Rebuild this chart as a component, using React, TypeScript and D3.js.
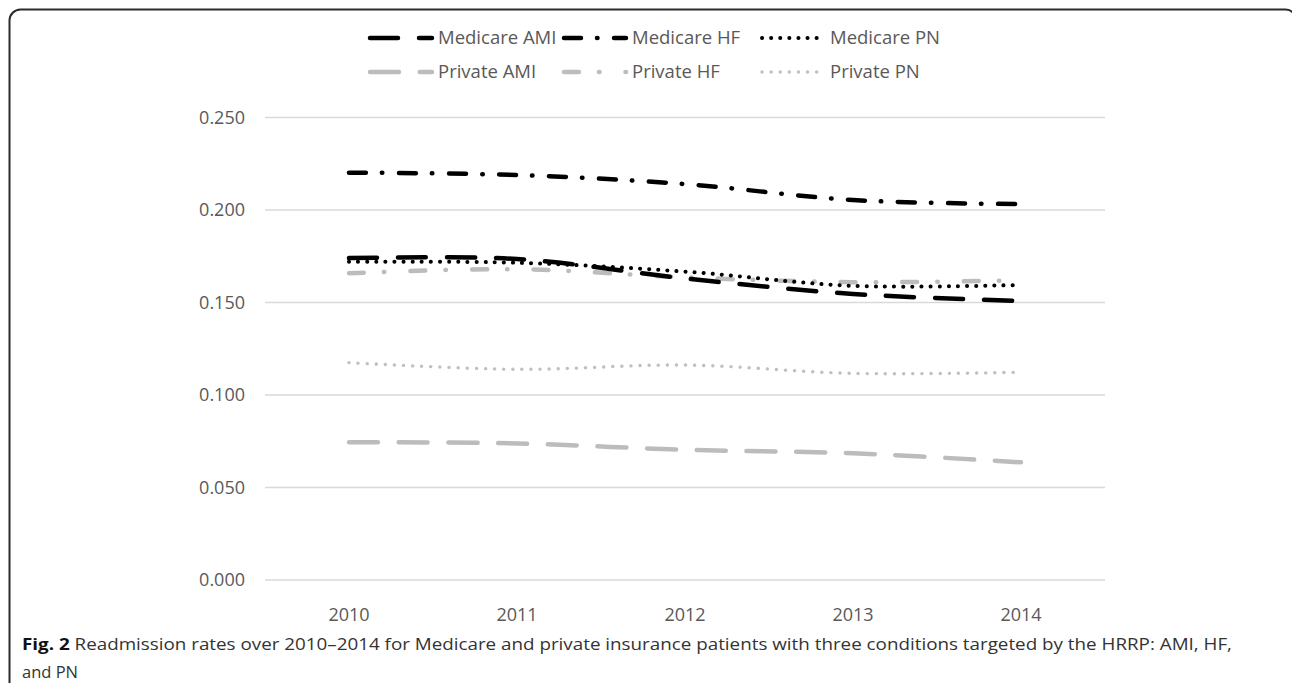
import * as d3 from 'd3';

const years = ['2010', '2011', '2012', '2013', '2014'];
const yTicks = [0, 0.05, 0.1, 0.15, 0.2, 0.25];

const medicareAMI = [0.174, 0.1735, 0.163, 0.1546, 0.1508];
const medicareHF = [0.2202, 0.2189, 0.214, 0.2054, 0.2032];
const medicarePN = [0.172, 0.1715, 0.1667, 0.159, 0.1595];
const privateAMI = [0.0745, 0.0738, 0.0704, 0.0685, 0.0636];
const privateHF = [0.1658, 0.168, 0.1636, 0.161, 0.162];
const privatePN = [0.1175, 0.1139, 0.1162, 0.1117, 0.1123];

const seriesNames = ['Medicare AMI', 'Medicare HF', 'Medicare PN', 'Private AMI', 'Private HF', 'Private PN'];

const W = 1292;
const H = 683;
const FONT = '"Open Sans", sans-serif';

interface LineStyle {
  color: string;
  width: number;
  dash: string;
}

const styles: LineStyle[] = [
  { color: '#000', width: 4.5, dash: '28 21' },
  { color: '#000', width: 4.5, dash: '17 16 0.5 16.5' },
  { color: '#000', width: 4, dash: '0.1 9' },
  { color: '#bcbcbc', width: 4.5, dash: '29 20.7' },
  { color: '#bcbcbc', width: 4.5, dash: '15 20 0.5 26' },
  { color: '#c0c0c0', width: 3.4, dash: '0.1 9' },
];

const allSeries = [medicareAMI, medicareHF, medicarePN, privateAMI, privateHF, privatePN];

export default function App() {
  const x = d3.scaleBand<string>().domain(years).range([265, 1105]);
  const y = d3.scaleLinear().domain([0, 0.25]).range([580, 117.5]);
  const cx = (d: string) => (x(d) ?? 0) + x.bandwidth() / 2;

  const line = d3
    .line<number>()
    .x((_, i) => cx(years[i]))
    .y((d) => y(d))
    .curve(d3.curveCatmullRom.alpha(0.5));

  // legend grid: 3 columns, 2 rows
  const legCols = [370, 564, 762];
  const legRows = [38, 72];

  // draw order: private first so medicare sits on top
  const order = [5, 4, 3, 2, 0, 1];

  return (
    <svg
      width={W}
      height={H}
      style={{ position: 'absolute', left: 0, top: 0, background: '#fff' }}
      fontFamily={FONT}
    >
      <rect x={9.5} y={9.5} width={1287} height={720} rx={11} fill="none" stroke="#2b2b2b" strokeWidth={2} />

      {yTicks.map((t) => (
        <g key={t}>
          <line x1={265} x2={1105} y1={y(t)} y2={y(t)} stroke="#d9d9d9" strokeWidth={1.3} />
          <text x={245} y={y(t)} dy="0.35em" textAnchor="end" fontSize={18} fill="#595959">
            {d3.format('.3f')(t)}
          </text>
        </g>
      ))}

      {years.map((yr) => (
        <text key={yr} x={cx(yr)} y={615} dy="0.35em" textAnchor="middle" fontSize={18} fill="#595959">
          {yr}
        </text>
      ))}

      {order.map((i) => (
        <path
          key={seriesNames[i]}
          d={line(allSeries[i]) ?? ''}
          fill="none"
          stroke={styles[i].color}
          strokeWidth={styles[i].width}
          strokeDasharray={styles[i].dash}
          strokeLinecap="round"
        />
      ))}

      {seriesNames.map((name, i) => {
        const lx = legCols[i % 3];
        const ly = legRows[Math.floor(i / 3)];
        return (
          <g key={name}>
            <line
              x1={lx}
              x2={lx + 62}
              y1={ly}
              y2={ly}
              stroke={styles[i].color}
              strokeWidth={styles[i].width}
              strokeDasharray={styles[i].dash}
              strokeLinecap="round"
            />
            <text x={lx + 68} y={ly} dy="0.35em" fontSize={18.5} fill="#595959">
              {name}
            </text>
          </g>
        );
      })}

      <text x={22} y={650} fontSize={16.5} fill="#333" textLength={1210} lengthAdjust="spacingAndGlyphs">
        <tspan fontWeight="bold" fill="#111">Fig. 2</tspan>
        {' Readmission rates over 2010–2014 for Medicare and private insurance patients with three conditions targeted by the HRRP: AMI, HF,'}
      </text>
      <text x={22} y={678} fontSize={16.5} fill="#333">
        and PN
      </text>
    </svg>
  );
}
